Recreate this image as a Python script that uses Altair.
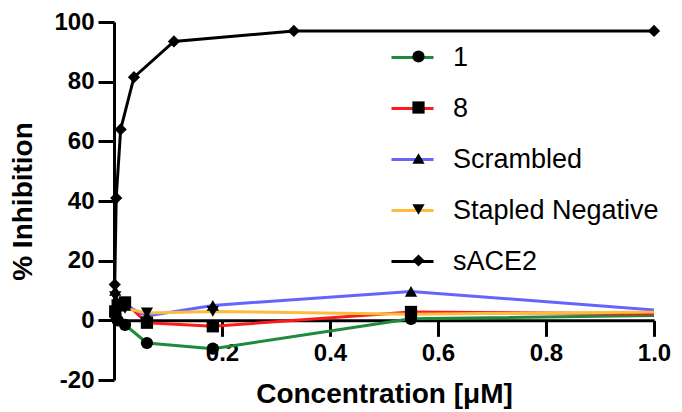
import altair as alt
import pandas as pd

# ---- data ----
series_names = ["1", "8", "Scrambled", "Stapled Negative", "sACE2"]
series_colors = ["#1f8a3c", "#ff1a1a", "#6464ff", "#fdbb3f", "#000000"]
series_shapes = ["circle", "square", "triangle-up", "triangle-down", "diamond"]

conc_pep = [0.00226, 0.0068, 0.0204, 0.061, 0.183, 0.55, 1.65]
inh_1 = [2.0, 0.0, -1.5, -7.6, -9.5, 0.5, 3.2]
inh_8 = [3.0, 5.0, 6.0, -0.8, -2.0, 2.8, 1.3]
inh_scr = [10.0, 6.0, 5.0, 1.5, 5.0, 9.7, -5.5]
inh_stn = [8.0, 5.0, 4.0, 2.5, 3.0, 2.0, 4.0]

conc_ace = [0.00137, 0.0041, 0.0123, 0.037, 0.111, 0.333, 1.0]
inh_ace = [12.0, 41.0, 64.0, 81.5, 93.5, 97.0, 97.0]

x_ticks = [0.2, 0.4, 0.6, 0.8, 1.0]
y_ticks = list(range(-20, 101, 5))

marker_names = [n + " " for n in series_names]  # separate domain -> separate (marker) legend

rows = []
for i, vals in enumerate([inh_1, inh_8, inh_scr, inh_stn]):
    for c, v in zip(conc_pep, vals):
        rows.append({"conc": c, "inh": v, "Series": series_names[i], "Marker": marker_names[i]})
for c, v in zip(conc_ace, inh_ace):
    rows.append({"conc": c, "inh": v, "Series": series_names[4], "Marker": marker_names[4]})
df = pd.DataFrame(rows)

FONT = "Liberation Sans"
W, H = 540, 358

x_enc = alt.X(
    "conc:Q",
    scale=alt.Scale(domain=[0, 1], nice=False, zero=False),
    axis=alt.Axis(
        values=x_ticks, format=".1f", offset=-H * 20 / 120,
        tickSize=16, tickWidth=3, tickColor="black",
        domainWidth=3, domainColor="black",
        labelFontSize=24, labelFontWeight="bold", labelFont=FONT, labelColor="black",
        labelPadding=5, labelFlush=False,
        title="Concentration [μM]", titleFontSize=28, titleFontWeight="bold",
        titleFont=FONT, titleColor="black", titlePadding=15, grid=False,
    ),
)
y_enc = alt.Y(
    "inh:Q",
    scale=alt.Scale(domain=[-20, 100], nice=False, zero=False),
    axis=alt.Axis(
        values=y_ticks,
        labelExpr="datum.value % 20 === 0 ? '' + datum.value : ''",
        tickSize={"condition": {"test": "datum.value % 20 === 0", "value": 16}, "value": 9},
        tickWidth=3, tickColor="black", domainWidth=3, domainColor="black",
        labelFontSize=24, labelFontWeight="bold", labelFont=FONT, labelColor="black",
        labelPadding=4,
        title="% Inhibition", titleFontSize=28, titleFontWeight="bold",
        titleFont=FONT, titleColor="black", titlePadding=16, grid=False,
    ),
)

lines = alt.Chart(df).mark_line(strokeWidth=3, clip=True).encode(
    x=x_enc,
    y=y_enc,
    color=alt.Color(
        "Series:N",
        scale=alt.Scale(domain=series_names, range=series_colors),
        legend=alt.Legend(
            title=None, orient="none", legendX=276, legendY=13,
            symbolType="stroke", symbolSize=1764, symbolStrokeWidth=3,
            labelFontSize=27, labelFont=FONT, labelColor="black", labelLimit=400,
            labelOffset=18, rowPadding=15, padding=0,
        ),
    ),
    detail="Series:N",
)

points = alt.Chart(df).transform_filter("datum.conc <= 1").mark_point(
    filled=True, size=150, color="black", opacity=1
).encode(
    x="conc:Q",
    y="inh:Q",
    shape=alt.Shape(
        "Marker:N",
        scale=alt.Scale(domain=marker_names, range=series_shapes),
        legend=alt.Legend(
            title=None, orient="none", legendX=291, legendY=21,
            symbolSize=150, symbolFillColor="black", symbolStrokeWidth=0,
            labelFontSize=27, labelFont=FONT, labelExpr="' '", labelLimit=400,
            rowPadding=23, padding=0,
        ),
    ),
)

chart = alt.layer(lines, points).properties(
    width=W, height=H,
    padding={"left": 106, "top": 14, "right": 20, "bottom": 30},
    autosize=alt.AutoSizeParams(type="none"),
    background="white",
).configure_view(stroke=None)

chart.save("out.html", embed_options={"renderer": "svg", "actions": False})
